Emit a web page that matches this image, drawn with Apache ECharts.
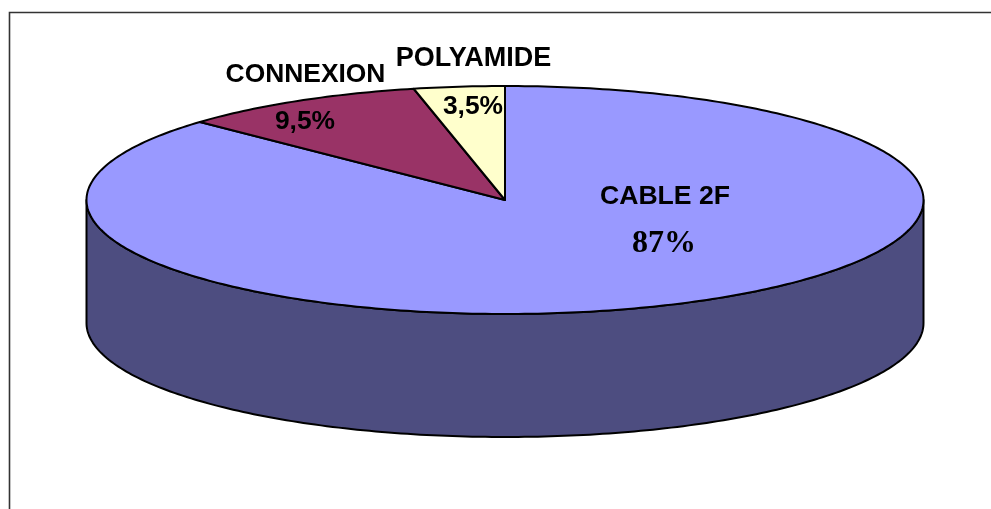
<!DOCTYPE html>
<html>
<head>
<meta charset="utf-8">
<style>
	html, body { margin: 0; padding: 0; background: #fff; }
	#chart { width: 991px; height: 509px; }
</style>
</head>
<body>
<div id="chart"></div>
<script src="https://cdn.jsdelivr.net/npm/echarts@6/dist/echarts.min.js"></script>
<script>
	var categories = ['CABLE 2F', 'CONNEXION', 'POLYAMIDE'];
	var shares = [87, 9.5, 3.5];
	var shareLabels = ['87%', '9,5%', '3,5%'];
	var sliceColors = ['#9999ff', '#993366', '#ffffcc'];

	var centerX = 505, centerY = 200, radiusX = 418.5, radiusY = 114, depth = 123;
	var squash = radiusY / radiusX;
	var sans = '"Liberation Sans", Arial, sans-serif';
	var serif = '"Liberation Serif", "Times New Roman", serif';

	// start and end of each slice, as read on the angle axis
	var sliceRows = [];
	var running = 0;
	for (var i = 0; i < shares.length; i++) {
		sliceRows.push([1, running, running + shares[i], i]);
		running += shares[i];
	}

	// polar circle point, flattened to the ellipse of the pie
	function flatPoint(api, angleValue, drop) {
		var p = api.coord([1, angleValue]);
		return [p[0], centerY + (p[1] - centerY) * squash + (drop || 0)];
	}

	function arcPoints(api, from, to, drop) {
		var points = [];
		var steps = Math.max(2, Math.round(Math.abs(to - from) * 4));
		for (var k = 0; k <= steps; k++) {
			points.push(flatPoint(api, from + (to - from) * k / steps, drop));
		}
		return points;
	}

	function renderSlice(params, api) {
		var points = [[centerX, centerY]].concat(arcPoints(api, api.value(1), api.value(2)));
		return {
			type: 'polygon',
			shape: { points: points },
			style: {
				fill: sliceColors[api.value(3)],
				stroke: '#000',
				lineWidth: 2,
				lineJoin: 'round'
			}
		};
	}

	// side wall: front half of the rim, from 3 o'clock to 9 o'clock
	function renderWall(params, api) {
		var top = arcPoints(api, api.value(1), api.value(2), 0);
		var bottom = arcPoints(api, api.value(1), api.value(2), depth);
		return {
			type: 'polygon',
			shape: { points: top.concat(bottom.reverse()) },
			style: {
				fill: '#4d4d80',
				stroke: '#000',
				lineWidth: 2,
				lineJoin: 'round'
			}
		};
	}

	function label(text, x, y, font, size) {
		return {
			type: 'text',
			x: x,
			y: y,
			z: 10,
			style: {
				text: text,
				fill: '#000',
				font: 'bold ' + size + 'px ' + font,
				align: 'center',
				verticalAlign: 'middle'
			}
		};
	}

	var myChart = echarts.init(document.getElementById('chart'));
	var option = {
		animation: false,
		backgroundColor: '#fff',
		polar: {
			center: [centerX, centerY],
			radius: radiusX
		},
		angleAxis: {
			type: 'value',
			min: 0,
			max: 100,
			startAngle: 90,
			clockwise: true,
			show: false
		},
		radiusAxis: {
			type: 'value',
			min: 0,
			max: 1,
			show: false
		},
		graphic: [
			{
				type: 'polyline',
				shape: { points: [[9.5, 520], [9.5, 12.5], [1000, 12.5]] },
				style: { fill: null, stroke: '#333', lineWidth: 1.6 },
				z: 0
			},
			label(categories[0], 665, 197, sans, 26.6),
			label(shareLabels[0], 664, 244, serif, 32),
			label(categories[1], 305.5, 75, sans, 26.4),
			label(shareLabels[1], 305, 122, sans, 26.4),
			label(categories[2], 473.5, 58.5, sans, 27),
			label(shareLabels[2], 473, 107, sans, 26.4)
		],
		series: [{
			name: 'wall',
			type: 'custom',
			coordinateSystem: 'polar',
			renderItem: renderWall,
			silent: true,
			z: 1,
			data: [[1, 25, 75, 0]]
		}, {
			name: 'slices',
			type: 'custom',
			coordinateSystem: 'polar',
			renderItem: renderSlice,
			silent: true,
			z: 2,
			data: sliceRows
		}]
	};
	myChart.setOption(option);
</script>
</body>
</html>
